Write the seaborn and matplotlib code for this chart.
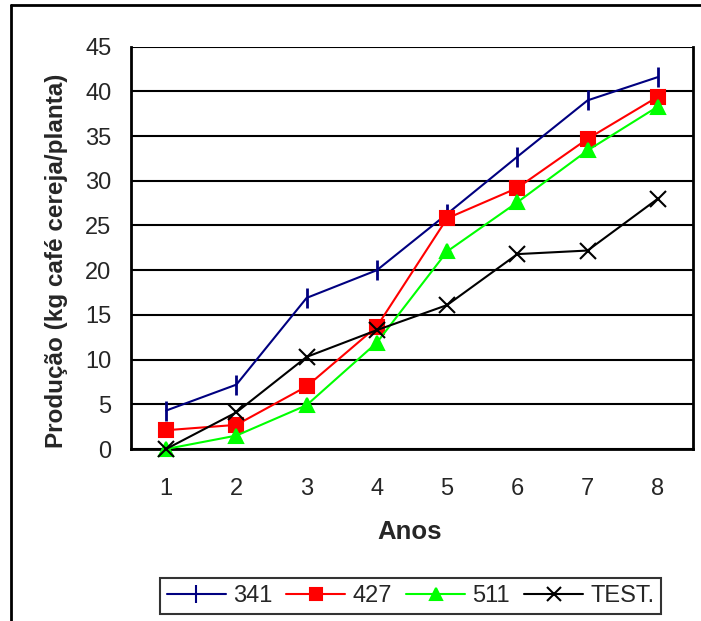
import matplotlib
matplotlib.use("Agg")
import matplotlib.pyplot as plt
import seaborn as sns
import pandas as pd
from matplotlib.lines import Line2D
from matplotlib.ticker import FixedLocator, NullFormatter

anos = [1, 2, 3, 4, 5, 6, 7, 8]
s341 = [4.3, 7.2, 16.9, 20.0, 26.3, 32.7, 39.0, 41.6]
s427 = [2.1, 2.7, 7.0, 13.7, 25.8, 29.2, 34.7, 39.4]
s511 = [0.0, 1.5, 4.9, 11.9, 22.1, 27.6, 33.4, 38.3]
test = [0.0, 4.1, 10.3, 13.3, 16.1, 21.8, 22.2, 28.0]
series_names = ["341", "427", "511", "TEST."]
y_ticks = [0, 5, 10, 15, 20, 25, 30, 35, 40, 45]

sns.set_style("white")
plt.rcParams["font.family"] = ["Liberation Sans", "DejaVu Sans"]

W, H = 701, 621
fig = plt.figure(figsize=(W / 100, H / 100), dpi=100)
ax = fig.add_axes([131/W, 1 - 449/H, (693-131)/W, (449-46.7)/H])

palette = {"341": "#000080", "427": "#FF0000", "511": "#00FF00", "TEST.": "#000000"}
markers = {"341": "|", "427": "s", "511": "^", "TEST.": "x"}
msizes = {"341": 14, "427": 10, "511": 10, "TEST.": 11}

for name, vals in zip(series_names, [s341, s427, s511, test]):
    d = pd.DataFrame({"Anos": anos, "valor": vals})
    sns.lineplot(data=d, x="Anos", y="valor", color=palette[name], marker=markers[name],
                 markersize=msizes[name], markeredgewidth=2 if name == "341" else 1.5,
                 markerfacecolor=palette[name], markeredgecolor=palette[name],
                 linewidth=1.5, ax=ax, zorder=3, clip_on=False)

ax.set_xlim(0.5, 8.5)
ax.set_ylim(0, 45)
ax.set_yticks(y_ticks)
ax.set_xticks(anos)
ax.set_xticklabels([str(a) for a in anos])
ax.xaxis.set_minor_locator(FixedLocator([0.5 + i for i in range(9)]))
ax.xaxis.set_minor_formatter(NullFormatter())
ax.tick_params(axis="x", which="major", length=0, pad=21, labelsize=17)
ax.tick_params(axis="x", which="minor", length=6, width=1.5, direction="out", color="black")
ax.tick_params(axis="y", which="major", length=7, width=1.5, direction="out", labelsize=17, pad=7, color="black")

ax.grid(axis="y", color="black", linewidth=1.5, zorder=0)
ax.set_axisbelow(True)
for side in ["left", "bottom", "right", "top"]:
    ax.spines[side].set_visible(True)
    ax.spines[side].set_color("black")
    ax.spines[side].set_linewidth(2)
ax.spines["top"].set_visible(False)

ax.set_xlabel("Anos", fontsize=18.5, fontweight="bold")
ax.xaxis.set_label_coords((410 - 131) / 562, (449 - 532) / 402.3)
ax.xaxis.label.set_verticalalignment("center")
ax.set_ylabel("Produção (kg café cereja/planta)", fontsize=17.5, fontweight="bold")
ax.yaxis.set_label_coords((56 - 131) / 562, (449 - 261) / 402.3)
ax.yaxis.label.set_verticalalignment("center")

handles = [Line2D([], [], color=palette[n], marker=markers[n], markersize=msizes[n] - 1,
                  markeredgewidth=1.5, markerfacecolor=palette[n], linewidth=1.5)
           for n in series_names]
leg = fig.legend(handles, series_names, loc="center", bbox_to_anchor=(410.5/W, 1 - 596/H),
                 ncol=4, fontsize=17, frameon=True, fancybox=False, handlelength=2.5,
                 columnspacing=0.6, handletextpad=0.3, borderpad=0.3, borderaxespad=0)
leg.get_frame().set_edgecolor("black")
leg.get_frame().set_linewidth(1.5)

fig.add_artist(Line2D([11/W, 11/W], [0, 1 - 5/H], transform=fig.transFigure, color="black", linewidth=2))
fig.add_artist(Line2D([11/W, 1], [1 - 5/H, 1 - 5/H], transform=fig.transFigure, color="black", linewidth=2))

fig.savefig("out.png", dpi=100)
